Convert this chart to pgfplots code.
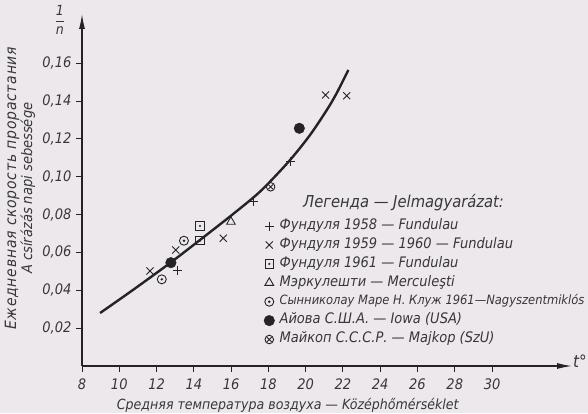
\documentclass[border=0pt]{standalone}
\usepackage{fontspec}
\setmainfont{DejaVu Sans Condensed}
\usepackage{pgfplots}
\pgfplotsset{compat=1.18}
\usetikzlibrary{arrows.meta}
\definecolor{bg}{RGB}{236,232,235}
\definecolor{ink}{RGB}{36,36,38}
\definecolor{txt}{RGB}{55,55,60}
\pgfdeclareplotmark{sqdot}{%
  \pgfpathrectangle{\pgfqpoint{-\pgfplotmarksize}{-\pgfplotmarksize}}{\pgfqpoint{2\pgfplotmarksize}{2\pgfplotmarksize}}%
  \pgfusepathqstroke
  \pgfpathcircle{\pgfpointorigin}{0.28\pgfplotmarksize}%
  \pgfusepathqfill}
\pgfdeclareplotmark{odot}{%
  \pgfpathcircle{\pgfpointorigin}{\pgfplotmarksize}%
  \pgfusepathqstroke
  \pgfpathcircle{\pgfpointorigin}{0.3\pgfplotmarksize}%
  \pgfusepathqfill}
\pgfdeclareplotmark{otimes}{%
  \pgfpathcircle{\pgfpointorigin}{\pgfplotmarksize}%
  \pgfusepathqstroke
  \pgfpathmoveto{\pgfqpoint{-0.55\pgfplotmarksize}{-0.55\pgfplotmarksize}}%
  \pgfpathlineto{\pgfqpoint{0.55\pgfplotmarksize}{0.55\pgfplotmarksize}}%
  \pgfpathmoveto{\pgfqpoint{-0.55\pgfplotmarksize}{0.55\pgfplotmarksize}}%
  \pgfpathlineto{\pgfqpoint{0.55\pgfplotmarksize}{-0.55\pgfplotmarksize}}%
  \pgfusepathqstroke}
\begin{document}
\begin{tikzpicture}[x=1pt,y=1pt]
\fill[bg] (-82,-47) rectangle (506,366);
\useasboundingbox (-82,-47) rectangle (506,366);
\begin{axis}[
  at={(0,0)}, anchor=south west,
  scale only axis, width=490pt, height=352pt,
  xmin=8, xmax=34.29, ymin=0, ymax=0.186,
  axis lines=left,
  axis line style={ink, line width=1.2pt, -{Latex[length=15pt,width=6pt]}},
  xtick={8,10,...,30},
  ytick={0.02,0.04,0.06,0.08,0.10,0.12,0.14,0.16},
  tick align=outside, major tick length=6pt,
  tick style={ink, line width=0.9pt},
  /pgf/number format/assume math mode=true,
  ticklabel style={font=\fontsize{14.5}{16}\selectfont\itshape, text=txt},
  xticklabel style={yshift=-3pt},
  yticklabel style={xshift=-1pt, /pgf/number format/.cd, fixed, fixed zerofill, precision=2, use comma},
  xlabel={Средняя температура воздуха — Középhőmérséklet},
  xlabel style={at={(axis description cs:0.42,0)}, anchor=center, yshift=-39pt,
    font=\fontsize{14}{16}\selectfont\itshape, text=txt},
  ylabel={{\fontsize{15.5}{16}\selectfont\addfontfeature{LetterSpace=5}Ежедневная скорость прорастания}\\A csírázás napi sebessége},
  ylabel style={at={(axis description cs:-0.1265,0.505)}, anchor=center,
    align=center, font=\fontsize{14.5}{16}\selectfont\itshape, text=txt},
  legend cell align=left,
  legend style={at={(axis description cs:0.371,0.42)}, anchor=north west,
    draw=none, fill=none, row sep=3.4pt, column sep=4pt, inner sep=0pt,
    font=\fontsize{14.5}{16}\selectfont\itshape, text=txt,
    nodes={inner sep=1pt, text height=10pt, text depth=3.5pt}},
  legend image code/.code={\draw[#1] plot coordinates {(0.2cm,0cm)};},
  clip=false,
]
\addplot[ink, line width=2.4pt, smooth, forget plot] coordinates {
 (8.97,0.0280) (10.75,0.0403) (12.72,0.0544) (14.33,0.0666) (15.94,0.0790)
 (17.19,0.0890) (17.91,0.0956) (19.16,0.1088) (20.23,0.1220) (21.13,0.1352)
 (21.66,0.1441) (22.29,0.1564)};
\addplot[only marks, mark=+, mark size=4.5pt, ink, line width=0.9pt] coordinates {
 (13.13,0.0507) (17.19,0.0868) (19.20,0.1079)};
\addlegendentry{Фундуля 1958 — Fundulau}
\addplot[only marks, mark=x, mark size=5pt, ink, line width=0.9pt] coordinates {
 (11.65,0.0502) (13.03,0.0613) (15.58,0.0675) (21.07,0.1432) (22.20,0.1428)};
\addlegendentry{Фундуля 1959 — 1960 — Fundulau}
\addplot[only marks, mark=sqdot, mark size=4.2pt, ink, line width=0.9pt] coordinates {
 (14.33,0.0740) (14.33,0.0662)};
\addlegendentry{Фундуля 1961 — Fundulau}
\addplot[only marks, mark=triangle, mark size=5pt, ink, line width=0.9pt] coordinates {
 (15.99,0.0762)};
\addlegendentry{Мэркулешти — Merculeşti}
\addplot[only marks, mark=odot, mark size=4.5pt, ink, line width=0.9pt] coordinates {
 (12.28,0.0458) (13.47,0.0662)};
\addlegendentry{\fontsize{12.8}{14}\selectfont Сынниколау Маре Н. Клуж 1961—Nagyszentmiklós}
\addplot[only marks, mark=*, mark size=5.3pt, ink] coordinates {
 (12.77,0.0546) (19.66,0.1256)};
\addlegendentry{Айова С.Ш.А. — Iowa (USA)}
\addplot[only marks, mark=otimes, mark size=4.3pt, ink, line width=0.9pt] coordinates {
 (18.12,0.0947)};
\addlegendentry{Майкоп С.С.С.Р. — Majkop (SzU)}
\node[anchor=west, font=\fontsize{16.4}{18}\selectfont\itshape, text=txt, inner sep=0pt]
  at (axis description cs:0.451,0.463) {Легенда — Jelmagyarázat:};
\node[font=\fontsize{14}{16}\selectfont, text=txt, inner sep=0pt]
  at (axis description cs:-0.045,0.983) {$\displaystyle{\textit{1}\over\textit{n}}$};
\node[anchor=west, font=\fontsize{17}{18}\selectfont\itshape, text=txt, inner sep=1pt]
  at (axis description cs:1,0.015) {t°};
\end{axis}
\end{tikzpicture}
\end{document}
